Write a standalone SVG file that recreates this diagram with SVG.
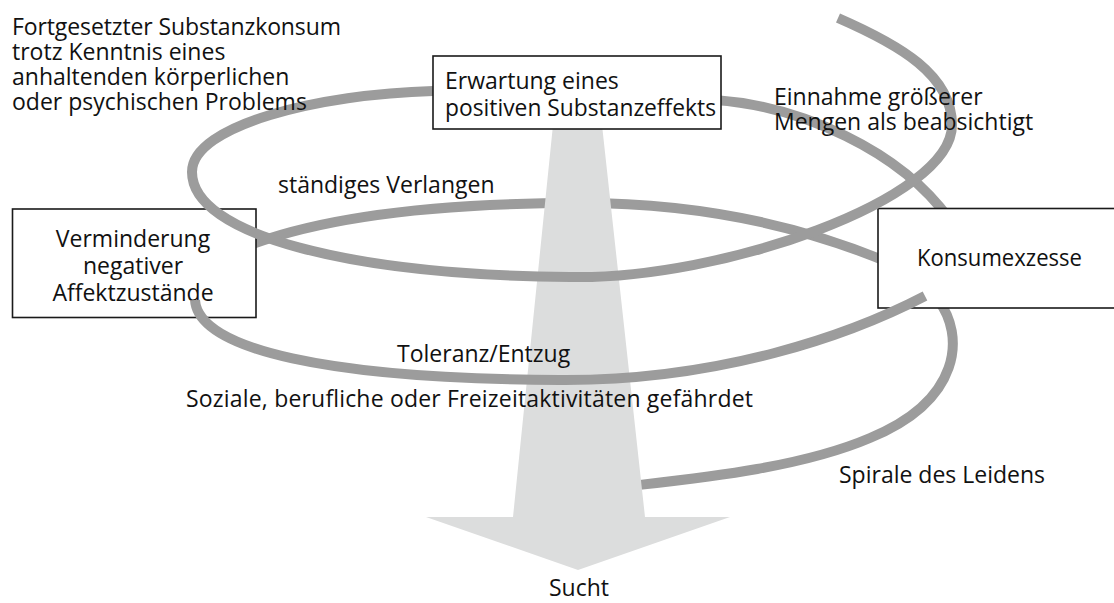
<svg xmlns="http://www.w3.org/2000/svg" width="1114" height="603" viewBox="0 0 1114 603">
<style>
.bg{fill:#ffffff}
.box{fill:#ffffff;stroke:#1a1a1a;stroke-width:1.6}
.coil{fill:none;stroke:#9c9c9c;stroke-width:10;stroke-linecap:butt}
.arrow{fill:#dcdddd}
text{font-family:"Open Sans","Noto Sans","Liberation Sans",sans-serif;font-size:23px;fill:#111111}
.c{text-anchor:middle}
</style>
<rect class="bg" x="0" y="0" width="1114" height="603"/>
<g id="connectors-back">
<path class="coil" d="M 250 245 C 330 215, 450 203, 580 203 C 700 203, 800 225, 890 263"/>
<path class="coil" d="M 938 300 C 965 335, 962 400, 870 438 C 800 468, 700 478, 630 486"/>
<path class="coil" d="M 715 100 C 800 106, 900 150, 950 220"/>
</g>
<g id="sucht-arrow">
<polygon class="arrow" points="553,125 602,125 645,517 730,517 578,570 426,517 513,517"/>
</g>
<g id="node-verminderung">
<rect class="box" x="12.5" y="209" width="243.5" height="108.5"/>
<text class="c" x="133" y="247">Verminderung</text>
<text class="c" x="133" y="274">negativer</text>
<text class="c" x="133" y="301">Affektzustände</text>
</g>
<g id="node-konsumexzesse">
<rect class="box" x="878" y="208.5" width="250" height="99.5"/>
<text x="917" y="266" textLength="165" lengthAdjust="spacingAndGlyphs">Konsumexzesse</text>
</g>
<g id="connectors-front">
<path class="coil" d="M 433 91 C 320 94, 192 125, 192 172 C 192 235, 350 275, 570 277 C 720 280, 952 200, 952 125 C 952 75, 900 45, 838 18"/>
<path class="coil" d="M 195 300 C 198 350, 330 379, 560 380 C 720 381, 850 335, 925 296"/>
</g>
<g id="node-erwartung">
<rect class="box" x="433" y="56" width="288" height="73"/>
<text x="445" y="89">Erwartung eines</text>
<text x="445" y="116" textLength="271" lengthAdjust="spacingAndGlyphs">positiven Substanzeffekts</text>
</g>
<g id="labels">
<text x="12" y="35" textLength="329">Fortgesetzter Substanzkonsum</text>
<text x="12" y="60">trotz Kenntnis eines</text>
<text x="12" y="85">anhaltenden körperlichen</text>
<text x="12" y="110">oder psychischen Problems</text>
<text x="774" y="105">Einnahme größerer</text>
<text x="774" y="130">Mengen als beabsichtigt</text>
<text x="278" y="193">ständiges Verlangen</text>
<text x="397" y="362">Toleranz/Entzug</text>
<text x="186" y="407" textLength="567">Soziale, berufliche oder Freizeitaktivitäten gefährdet</text>
<text x="839" y="483">Spirale des Leidens</text>
<text class="c" x="579" y="596">Sucht</text>
</g>
</svg>
